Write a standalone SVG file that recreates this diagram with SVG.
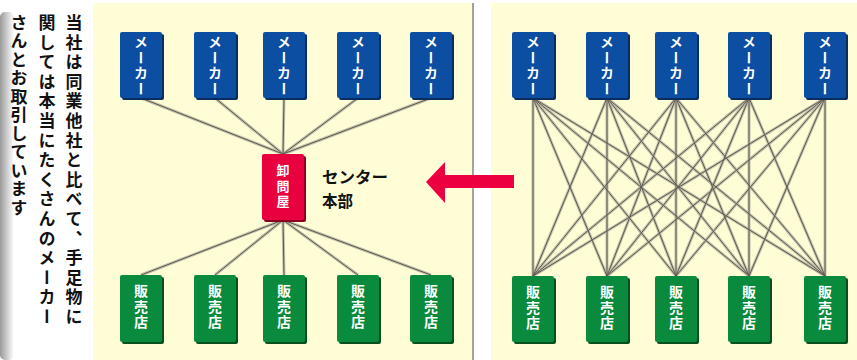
<svg xmlns="http://www.w3.org/2000/svg" xmlns:xlink="http://www.w3.org/1999/xlink" width="857" height="360" viewBox="0 0 857 360">
<style>
.vt{writing-mode:vertical-rl;font-family:"Noto Sans CJK JP","Noto Sans CJK SC",sans-serif;font-weight:bold;}
.side{font-size:17px;letter-spacing:2.6px;fill:#111;}
.node{font-size:14px;letter-spacing:1.5px;fill:#fff;text-anchor:start;}
.maker{fill:#0c4ea2;}
.shop{fill:#0a8a3c;}
.whole{fill:#e8003f;}
.shadow{fill:#0b2d5e;}
.shopsh{fill:#06501f;}
.wsh{fill:#8a0020;}
.lbl{font-family:"Noto Sans CJK JP","Noto Sans CJK SC",sans-serif;font-weight:bold;font-size:16px;fill:#111;}
</style>
<defs>
<linearGradient id="edge" x1="0" x2="1" y1="0" y2="0">
<stop offset="0" stop-color="#9a9a9a"/>
<stop offset="1" stop-color="#ffffff"/>
</linearGradient>
<path id="lnL" d="M141,98L283,154M215,98L283,154M284,98L283,154M358,98L283,154M431,98L283,154M141,275L283,220M215,275L283,220M284,275L283,220M358,275L283,220M431,275L283,220"/>
<path id="lnR" d="M533,98L533,276M533,98L607,276M533,98L676,276M533,98L749,276M533,98L825,276M607,98L533,276M607,98L607,276M607,98L676,276M607,98L749,276M607,98L825,276M676,98L533,276M676,98L607,276M676,98L676,276M676,98L749,276M676,98L825,276M749,98L533,276M749,98L607,276M749,98L676,276M749,98L749,276M749,98L825,276M825,98L533,276M825,98L607,276M825,98L676,276M825,98L749,276M825,98L825,276"/>
</defs>
<rect width="857" height="360" fill="#ffffff"/>
<g id="sidebar">
<rect x="0" y="12" width="14" height="348" rx="5" fill="url(#edge)"/>
<text class="vt side" x="74" y="14">当社は同業他社と比べて、手足物に</text>
<text class="vt side" x="47" y="14">関しては本当にたくさんのメーカー</text>
<text class="vt side" x="19" y="14" style="letter-spacing:1.5px">さんとお取引しています</text>
</g>
<g id="panels">
<rect x="93" y="3" width="379" height="357" fill="#fffdd6"/>
<rect x="472" y="3" width="2" height="357" fill="#a3a39a"/>
<rect x="491" y="3" width="366" height="357" fill="#fffdd6"/>
</g>
<g id="connectors" fill="none">
<use xlink:href="#lnL" stroke="#c4c1aa" stroke-width="3"/>
<use xlink:href="#lnL" stroke="#5a5850" stroke-width="1"/>
<use xlink:href="#lnR" stroke="#c4c1aa" stroke-width="3"/>
<use xlink:href="#lnR" stroke="#5a5850" stroke-width="1"/>
</g>
<g id="makers-left">
<g id="mL1"><rect class="shadow" x="122" y="34" width="42" height="66" rx="2"/><rect class="maker" x="120" y="32" width="42" height="66" rx="2"/><text class="vt node" x="141" y="35">メーカー</text></g>
<g id="mL2"><rect class="shadow" x="196" y="34" width="42" height="66" rx="2"/><rect class="maker" x="194" y="32" width="42" height="66" rx="2"/><text class="vt node" x="215" y="35">メーカー</text></g>
<g id="mL3"><rect class="shadow" x="265" y="34" width="42" height="66" rx="2"/><rect class="maker" x="263" y="32" width="42" height="66" rx="2"/><text class="vt node" x="284" y="35">メーカー</text></g>
<g id="mL4"><rect class="shadow" x="339" y="34" width="42" height="66" rx="2"/><rect class="maker" x="337" y="32" width="42" height="66" rx="2"/><text class="vt node" x="358" y="35">メーカー</text></g>
<g id="mL5"><rect class="shadow" x="412" y="34" width="42" height="66" rx="2"/><rect class="maker" x="410" y="32" width="42" height="66" rx="2"/><text class="vt node" x="431" y="35">メーカー</text></g>
</g>
<g id="wholesaler">
<rect class="wsh" x="264" y="156" width="42" height="66" rx="2"/>
<rect class="whole" x="262" y="154" width="42" height="66" rx="2"/>
<text class="vt node" x="283" y="164" style="font-size:13px;letter-spacing:2.5px">卸問屋</text>
</g>
<g id="center-label">
<text class="lbl" x="322" y="183" textLength="66" lengthAdjust="spacingAndGlyphs">センター</text>
<text class="lbl" x="322" y="207" textLength="31" lengthAdjust="spacingAndGlyphs">本部</text>
</g>
<g id="arrow">
<polygon points="426,182 445,162 445,175 514,175 514,188 445,188 445,203" fill="#ec0040"/>
</g>
<g id="shops-left">
<g id="sL1"><rect class="shopsh" x="122" y="277" width="42" height="67" rx="2"/><rect class="shop" x="120" y="275" width="42" height="67" rx="2"/><text class="vt node" x="141" y="284">販売店</text></g>
<g id="sL2"><rect class="shopsh" x="196" y="277" width="42" height="67" rx="2"/><rect class="shop" x="194" y="275" width="42" height="67" rx="2"/><text class="vt node" x="215" y="284">販売店</text></g>
<g id="sL3"><rect class="shopsh" x="265" y="277" width="42" height="67" rx="2"/><rect class="shop" x="263" y="275" width="42" height="67" rx="2"/><text class="vt node" x="284" y="284">販売店</text></g>
<g id="sL4"><rect class="shopsh" x="339" y="277" width="42" height="67" rx="2"/><rect class="shop" x="337" y="275" width="42" height="67" rx="2"/><text class="vt node" x="358" y="284">販売店</text></g>
<g id="sL5"><rect class="shopsh" x="412" y="277" width="42" height="67" rx="2"/><rect class="shop" x="410" y="275" width="42" height="67" rx="2"/><text class="vt node" x="431" y="284">販売店</text></g>
</g>
<g id="makers-right">
<g id="mR1"><rect class="shadow" x="514" y="34" width="42" height="66" rx="2"/><rect class="maker" x="512" y="32" width="42" height="66" rx="2"/><text class="vt node" x="533" y="35">メーカー</text></g>
<g id="mR2"><rect class="shadow" x="588" y="34" width="42" height="66" rx="2"/><rect class="maker" x="586" y="32" width="42" height="66" rx="2"/><text class="vt node" x="607" y="35">メーカー</text></g>
<g id="mR3"><rect class="shadow" x="657" y="34" width="42" height="66" rx="2"/><rect class="maker" x="655" y="32" width="42" height="66" rx="2"/><text class="vt node" x="676" y="35">メーカー</text></g>
<g id="mR4"><rect class="shadow" x="730" y="34" width="42" height="66" rx="2"/><rect class="maker" x="728" y="32" width="42" height="66" rx="2"/><text class="vt node" x="749" y="35">メーカー</text></g>
<g id="mR5"><rect class="shadow" x="806" y="34" width="42" height="66" rx="2"/><rect class="maker" x="804" y="32" width="42" height="66" rx="2"/><text class="vt node" x="825" y="35">メーカー</text></g>
</g>
<g id="shops-right">
<g id="sR1"><rect class="shopsh" x="514" y="278" width="42" height="66" rx="2"/><rect class="shop" x="512" y="276" width="42" height="66" rx="2"/><text class="vt node" x="533" y="285">販売店</text></g>
<g id="sR2"><rect class="shopsh" x="588" y="278" width="42" height="66" rx="2"/><rect class="shop" x="586" y="276" width="42" height="66" rx="2"/><text class="vt node" x="607" y="285">販売店</text></g>
<g id="sR3"><rect class="shopsh" x="657" y="278" width="42" height="66" rx="2"/><rect class="shop" x="655" y="276" width="42" height="66" rx="2"/><text class="vt node" x="676" y="285">販売店</text></g>
<g id="sR4"><rect class="shopsh" x="730" y="278" width="42" height="66" rx="2"/><rect class="shop" x="728" y="276" width="42" height="66" rx="2"/><text class="vt node" x="749" y="285">販売店</text></g>
<g id="sR5"><rect class="shopsh" x="806" y="278" width="42" height="66" rx="2"/><rect class="shop" x="804" y="276" width="42" height="66" rx="2"/><text class="vt node" x="825" y="285">販売店</text></g>
</g>
</svg>
